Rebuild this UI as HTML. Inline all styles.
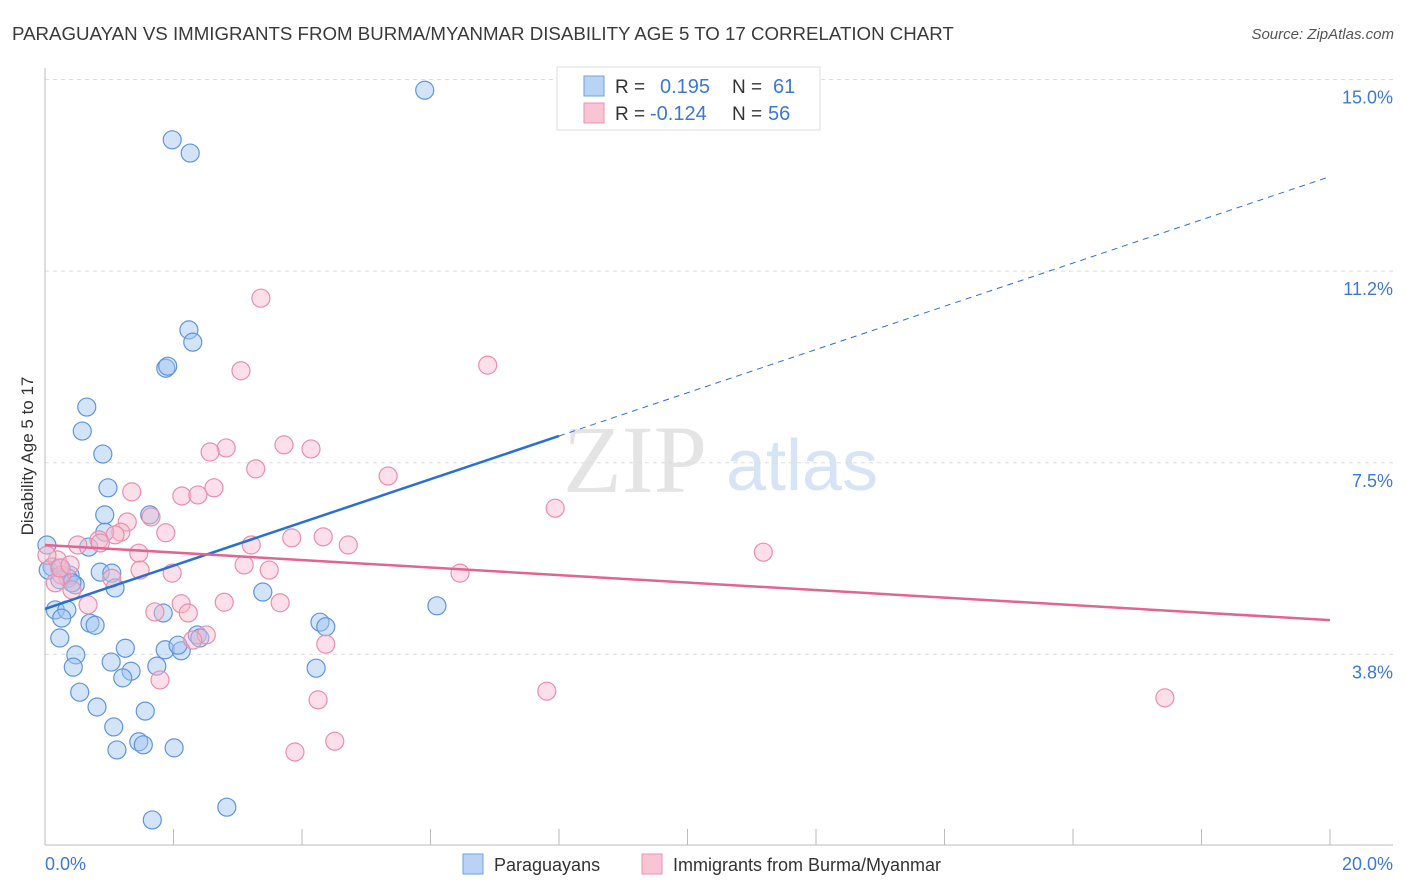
<!DOCTYPE html>
<html><head><meta charset="utf-8">
<style>
body{margin:0;background:#fff;font-family:"Liberation Sans",sans-serif;}
#wrap{position:relative;width:1406px;height:892px;overflow:hidden;}
</style></head>
<body>
<div id="wrap">
<svg id="svg" width="1406" height="892">
  <text x="12" y="40" font-size="18.7" fill="#3a3a3a">PARAGUAYAN VS IMMIGRANTS FROM BURMA/MYANMAR DISABILITY AGE 5 TO 17 CORRELATION CHART</text>
  <text x="1394" y="39" font-size="15" fill="#555" font-style="italic" text-anchor="end">Source: ZipAtlas.com</text>
  <text x="33" y="456" font-size="17" fill="#333" text-anchor="middle" transform="rotate(-90 33 456)">Disability Age 5 to 17</text>
  <g>
    <text x="635" y="492" font-size="96" fill="#e4e4e4" font-family="Liberation Serif" text-anchor="middle">ZIP</text>
    <text x="802" y="490" font-size="72" fill="#d6e4f5" text-anchor="middle">atlas</text>
  </g>
  <g id="grid"></g>
  <g id="axes"></g>
  <g id="pts"></g>
  <g id="lines"></g>
  <g>
    <rect x="557" y="67" width="263" height="63" fill="#fff" stroke="#ddd"/>
    <rect x="584" y="76" width="20" height="20" fill="#b8d3f5" stroke="#6ea0e0"/>
    <rect x="584" y="103" width="20" height="20" fill="#f9c5d5" stroke="#ea92ad"/>
    <text x="615" y="93" font-size="19" fill="#333">R = </text>
    <text x="660" y="93" font-size="20" fill="#3c78d8">0.195</text>
    <text x="732" y="93" font-size="19" fill="#333">N = </text>
    <text x="773" y="93" font-size="20" fill="#3c78d8">61</text>
    <text x="615" y="120" font-size="19" fill="#333">R = </text>
    <text x="650" y="120" font-size="20" fill="#3c78d8">-0.124</text>
    <text x="732" y="120" font-size="19" fill="#333">N = </text>
    <text x="768" y="120" font-size="20" fill="#3c78d8">56</text>
  </g>
  <g>
    <rect x="463" y="854" width="20" height="20" fill="#b8d3f5" stroke="#6ea0e0"/>
    <text x="494" y="871" font-size="18" fill="#333">Paraguayans</text>
    <rect x="642" y="854" width="20" height="20" fill="#f9c5d5" stroke="#ea92ad"/>
    <text x="673" y="871" font-size="18" fill="#333">Immigrants from Burma/Myanmar</text>
  </g>
</svg>
</div>
<script>
const yTicks=[15.0,11.25,7.5,3.75];
const yTickLabels=["15.0%","11.2%","7.5%","3.8%"];
const xTickCount=10;
const blueX=[5.91,1.98,2.26,2.24,2.30,1.88,1.91,0.65,0.58,0.90,0.98,0.93,1.63,0.93,0.03,0.68,0.11,0.39,0.86,1.04,0.36,0.23,0.47,1.09,3.39,6.10,0.16,0.34,0.26,1.84,0.70,0.78,4.28,4.37,0.23,2.37,1.25,0.48,1.87,2.12,2.07,1.03,0.44,1.74,4.22,1.34,1.21,0.54,0.81,1.56,1.07,1.46,1.53,1.12,2.01,2.83,1.67,0.42,0.05,0.25,2.41];
const blueY=[14.79,13.82,13.56,10.10,9.86,9.35,9.39,8.59,8.12,7.67,7.01,6.48,6.48,6.14,5.89,5.85,5.46,5.30,5.36,5.34,5.24,5.21,5.11,5.05,4.97,4.70,4.62,4.62,4.46,4.56,4.36,4.32,4.38,4.29,4.07,4.13,3.87,3.74,3.84,3.82,3.93,3.60,3.50,3.52,3.48,3.42,3.29,3.01,2.72,2.64,2.33,2.04,1.98,1.88,1.92,0.76,0.51,5.15,5.40,5.44,4.07];
const pinkX=[3.36,6.89,3.05,3.72,4.14,2.82,2.57,3.28,5.34,2.63,2.13,2.38,1.35,7.94,1.65,1.28,1.18,1.88,1.09,3.84,4.33,0.84,0.51,0.86,3.21,4.72,11.18,1.46,0.19,3.10,3.49,1.98,6.46,0.26,1.04,0.16,0.42,2.12,1.71,0.67,2.79,3.66,2.23,2.51,2.30,4.37,1.79,4.25,7.81,17.43,4.51,3.89,0.23,0.03,0.39,1.48];
const pinkY=[10.72,9.41,9.30,7.85,7.77,7.79,7.71,7.38,7.24,7.01,6.85,6.87,6.93,6.61,6.44,6.34,6.14,6.13,6.09,6.03,6.05,5.99,5.89,5.93,5.89,5.89,5.75,5.73,5.60,5.50,5.40,5.34,5.34,5.30,5.24,5.15,5.01,4.74,4.58,4.72,4.77,4.76,4.56,4.13,4.03,3.95,3.25,2.86,3.03,2.90,2.05,1.84,5.44,5.69,5.50,5.40];
const blueLine=[4.64,13.1];
const pinkLine=[5.89,4.42];

const NS="http://www.w3.org/2000/svg";
const xs=v=>45+v*64.25;
const ys=v=>846-v*51.1;
function mk(tag,attrs,parent){const e=document.createElementNS(NS,tag);for(const k in attrs)e.setAttribute(k,attrs[k]);parent.appendChild(e);return e;}
const grid=document.getElementById('grid'),axes=document.getElementById('axes'),pts=document.getElementById('pts'),lines=document.getElementById('lines');
yTicks.forEach((t,i)=>{
  const l=mk('line',{x1:45,x2:1393,y1:ys(t),y2:ys(t),stroke:'#ddd','stroke-dasharray':'4 4'},grid);
  
  
  const tx=mk('text',{x:1393,y:ys(t)+24,'font-size':18,fill:'#3c78d8','text-anchor':'end'},grid);
  tx.textContent=yTickLabels[i];
  
  
});
const ax=mk('line',{x1:45,x2:45,y1:68,y2:845,stroke:'#bbb'},axes);


const bx=mk('line',{x1:45,x2:1393,y1:845,y2:845,stroke:'#bbb'},axes);


for(let i=1;i<=xTickCount;i++){
  const t=mk('line',{x1:xs(i*2),x2:xs(i*2),y1:829,y2:845,stroke:'#bbb'},axes);
  
  
}
const xl0=mk('text',{x:45,y:870,'font-size':18,fill:'#3c78d8'},axes);xl0.textContent='0.0%';


const xl1=mk('text',{x:1393,y:870,'font-size':18,fill:'#3c78d8','text-anchor':'end'},axes);xl1.textContent='20.0%';


blueX.forEach((v,i)=>{
  const c=mk('circle',{cx:xs(v),cy:ys(blueY[i]),r:9,fill:'rgba(160,196,240,0.45)',stroke:'#5f95dc','stroke-width':1.2},pts);
  
  
});
pinkX.forEach((v,i)=>{
  const c=mk('circle',{cx:xs(v),cy:ys(pinkY[i]),r:9,fill:'rgba(248,185,205,0.45)',stroke:'#e98fab','stroke-width':1.2},pts);
  
  
});
const bv=x=>blueLine[0]+(blueLine[1]-blueLine[0])*x/20;
const b1=mk('line',{x1:xs(0),y1:ys(bv(0)),x2:xs(8),y2:ys(bv(8)),stroke:'#2a6fd6','stroke-width':2.5},lines);


const b2=mk('line',{x1:xs(8),y1:ys(bv(8)),x2:xs(20),y2:ys(bv(20)),stroke:'#2a6fd6','stroke-width':1,'stroke-dasharray':'6 5'},lines);


const p1=mk('line',{x1:xs(0),y1:ys(pinkLine[0]),x2:xs(20),y2:ys(pinkLine[1]),stroke:'#e2648f','stroke-width':2.5},lines);


</script>
</body></html>
